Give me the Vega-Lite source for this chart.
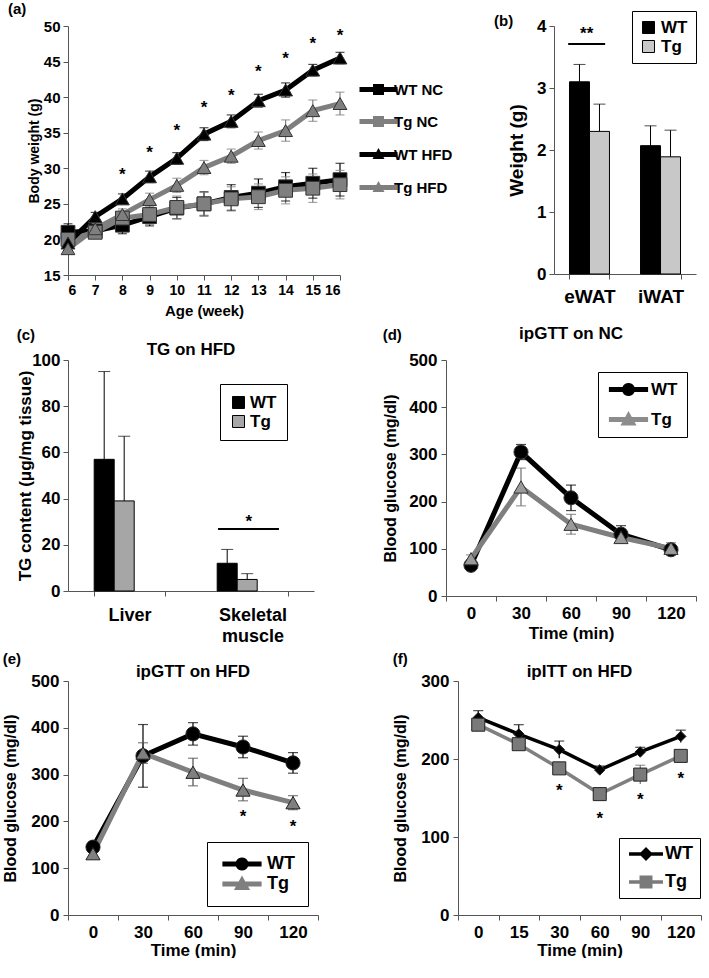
{
"$schema": "https://vega.github.io/schema/vega-lite/v6.json",
"background": "white",
"padding": {"left": 2, "top": 2, "right": 2, "bottom": 0},
"config": {
  "font": "Liberation Sans",
  "view": {"stroke": null},
  "axis": {"labelFont": "Liberation Sans", "labelFontWeight": "bold", "labelColor": "#000", "titleFont": "Liberation Sans", "titleFontWeight": "bold", "titleColor": "#000", "domainColor": "#555", "tickColor": "#555", "grid": false, "tickSize": 5, "labelPadding": 3, "labelOverlap": false},
  "title": {"font": "Liberation Sans", "fontWeight": "bold", "color": "#000"},
  "legend": {"labelFont": "Liberation Sans", "labelFontWeight": "bold", "labelColor": "#000"}
},
"datasets": {
  "a": [
    {"series": "WT NC", "week": 6, "value": 21.0, "lo": 19.8, "hi": 22.2},
    {"series": "WT NC", "week": 7, "value": 21.2, "lo": 20.4, "hi": 22.0},
    {"series": "WT NC", "week": 8, "value": 22.0, "lo": 20.8, "hi": 23.2},
    {"series": "WT NC", "week": 9, "value": 23.2, "lo": 21.9, "hi": 24.5},
    {"series": "WT NC", "week": 10, "value": 24.4, "lo": 22.9, "hi": 25.9},
    {"series": "WT NC", "week": 11, "value": 25.0, "lo": 23.3, "hi": 26.7},
    {"series": "WT NC", "week": 12, "value": 25.9, "lo": 24.1, "hi": 27.7},
    {"series": "WT NC", "week": 13, "value": 26.5, "lo": 24.5, "hi": 28.5},
    {"series": "WT NC", "week": 14, "value": 27.4, "lo": 25.4, "hi": 29.4},
    {"series": "WT NC", "week": 15, "value": 27.9, "lo": 25.8, "hi": 30.0},
    {"series": "WT NC", "week": 16, "value": 28.4, "lo": 26.1, "hi": 30.7},
    {"series": "Tg NC", "week": 6, "value": 20.0, "lo": 18.8, "hi": 21.2},
    {"series": "Tg NC", "week": 7, "value": 21.0, "lo": 20.2, "hi": 21.8},
    {"series": "Tg NC", "week": 8, "value": 23.0, "lo": 22.0, "hi": 24.0},
    {"series": "Tg NC", "week": 9, "value": 23.5, "lo": 22.1, "hi": 24.9},
    {"series": "Tg NC", "week": 10, "value": 24.5, "lo": 22.9, "hi": 26.1},
    {"series": "Tg NC", "week": 11, "value": 25.0, "lo": 23.4, "hi": 26.6},
    {"series": "Tg NC", "week": 12, "value": 25.7, "lo": 24.0, "hi": 27.4},
    {"series": "Tg NC", "week": 13, "value": 26.0, "lo": 24.2, "hi": 27.8},
    {"series": "Tg NC", "week": 14, "value": 26.9, "lo": 25.0, "hi": 28.8},
    {"series": "Tg NC", "week": 15, "value": 27.2, "lo": 25.2, "hi": 29.2},
    {"series": "Tg NC", "week": 16, "value": 27.7, "lo": 25.7, "hi": 29.7},
    {"series": "WT HFD", "week": 6, "value": 19.5, "lo": 18.9, "hi": 20.1},
    {"series": "WT HFD", "week": 7, "value": 23.2, "lo": 22.6, "hi": 23.8},
    {"series": "WT HFD", "week": 8, "value": 25.7, "lo": 25.0, "hi": 26.4},
    {"series": "WT HFD", "week": 9, "value": 28.8, "lo": 28.0, "hi": 29.6},
    {"series": "WT HFD", "week": 10, "value": 31.4, "lo": 30.6, "hi": 32.2},
    {"series": "WT HFD", "week": 11, "value": 34.8, "lo": 33.9, "hi": 35.7},
    {"series": "WT HFD", "week": 12, "value": 36.6, "lo": 35.7, "hi": 37.5},
    {"series": "WT HFD", "week": 13, "value": 39.5, "lo": 38.6, "hi": 40.4},
    {"series": "WT HFD", "week": 14, "value": 41.0, "lo": 40.0, "hi": 42.0},
    {"series": "WT HFD", "week": 15, "value": 43.8, "lo": 43.0, "hi": 44.6},
    {"series": "WT HFD", "week": 16, "value": 45.5, "lo": 44.7, "hi": 46.3},
    {"series": "Tg HFD", "week": 6, "value": 18.7, "lo": 18.1, "hi": 19.3},
    {"series": "Tg HFD", "week": 7, "value": 21.5, "lo": 20.8, "hi": 22.2},
    {"series": "Tg HFD", "week": 8, "value": 23.5, "lo": 22.7, "hi": 24.3},
    {"series": "Tg HFD", "week": 9, "value": 25.6, "lo": 24.7, "hi": 26.5},
    {"series": "Tg HFD", "week": 10, "value": 27.6, "lo": 26.6, "hi": 28.6},
    {"series": "Tg HFD", "week": 11, "value": 30.1, "lo": 29.1, "hi": 31.1},
    {"series": "Tg HFD", "week": 12, "value": 31.7, "lo": 30.7, "hi": 32.7},
    {"series": "Tg HFD", "week": 13, "value": 33.9, "lo": 32.7, "hi": 35.1},
    {"series": "Tg HFD", "week": 14, "value": 35.3, "lo": 33.8, "hi": 36.8},
    {"series": "Tg HFD", "week": 15, "value": 38.1, "lo": 36.6, "hi": 39.6},
    {"series": "Tg HFD", "week": 16, "value": 39.1, "lo": 37.5, "hi": 40.7}
  ],
  "a_stars": [
    {"week": 8, "y": 29.6}, {"week": 9, "y": 32.7}, {"week": 10, "y": 35.8},
    {"week": 11, "y": 39.0}, {"week": 12, "y": 40.7}, {"week": 13, "y": 44.1},
    {"week": 14, "y": 45.9}, {"week": 15, "y": 48.0}, {"week": 16, "y": 49.2}
  ],
  "b": [
    {"tissue": "eWAT", "group": "WT", "value": 3.10, "hi": 3.38},
    {"tissue": "eWAT", "group": "Tg", "value": 2.30, "hi": 2.74},
    {"tissue": "iWAT", "group": "WT", "value": 2.07, "hi": 2.39},
    {"tissue": "iWAT", "group": "Tg", "value": 1.89, "hi": 2.32}
  ],
  "b_sig": [{"x1": 0.2, "x2": 0.72, "y": 3.71, "lx": 0.46, "ly": 3.93, "label": "**"}],
  "c": [
    {"tissue": "Liver", "group": "WT", "value": 57, "hi": 95},
    {"tissue": "Liver", "group": "Tg", "value": 39, "hi": 67},
    {"tissue": "Skeletal muscle", "group": "WT", "value": 12, "hi": 18},
    {"tissue": "Skeletal muscle", "group": "Tg", "value": 5, "hi": 7.5}
  ],
  "c_sig": [{"x1": 1.22, "x2": 1.715, "y": 26.8, "lx": 1.47, "ly": 31.5, "label": "*"}],
  "d": [
    {"series": "WT", "t": "0", "value": 65, "lo": 57, "hi": 73},
    {"series": "WT", "t": "30", "value": 305, "lo": 289, "hi": 321},
    {"series": "WT", "t": "60", "value": 208, "lo": 181, "hi": 235},
    {"series": "WT", "t": "90", "value": 131, "lo": 113, "hi": 149},
    {"series": "WT", "t": "120", "value": 98, "lo": 88, "hi": 108},
    {"series": "Tg", "t": "0", "value": 79, "lo": 71, "hi": 87},
    {"series": "Tg", "t": "30", "value": 231, "lo": 191, "hi": 271},
    {"series": "Tg", "t": "60", "value": 152, "lo": 131, "hi": 173},
    {"series": "Tg", "t": "90", "value": 124, "lo": 112, "hi": 136},
    {"series": "Tg", "t": "120", "value": 101, "lo": 89, "hi": 113}
  ],
  "e": [
    {"series": "WT", "t": "0", "value": 145, "lo": 135, "hi": 155},
    {"series": "WT", "t": "30", "value": 340, "lo": 273, "hi": 407},
    {"series": "WT", "t": "60", "value": 387, "lo": 363, "hi": 411},
    {"series": "WT", "t": "90", "value": 359, "lo": 336, "hi": 382},
    {"series": "WT", "t": "120", "value": 325, "lo": 303, "hi": 347},
    {"series": "Tg", "t": "0", "value": 131, "lo": 121, "hi": 141},
    {"series": "Tg", "t": "30", "value": 346, "lo": 324, "hi": 368},
    {"series": "Tg", "t": "60", "value": 305, "lo": 276, "hi": 335},
    {"series": "Tg", "t": "90", "value": 267, "lo": 244, "hi": 292},
    {"series": "Tg", "t": "120", "value": 240, "lo": 225, "hi": 255}
  ],
  "e_stars": [{"t": "90", "y": 217}, {"t": "120", "y": 196}],
  "f": [
    {"series": "WT", "t": "0", "value": 253, "lo": 244, "hi": 262},
    {"series": "WT", "t": "15", "value": 232, "lo": 220, "hi": 244},
    {"series": "WT", "t": "30", "value": 212, "lo": 201, "hi": 223},
    {"series": "WT", "t": "60", "value": 186, "lo": 181, "hi": 191},
    {"series": "WT", "t": "90", "value": 209, "lo": 203, "hi": 215},
    {"series": "WT", "t": "120", "value": 229, "lo": 221, "hi": 237},
    {"series": "Tg", "t": "0", "value": 244, "lo": 238, "hi": 250},
    {"series": "Tg", "t": "15", "value": 219, "lo": 213, "hi": 225},
    {"series": "Tg", "t": "30", "value": 188, "lo": 182, "hi": 194},
    {"series": "Tg", "t": "60", "value": 155, "lo": 150, "hi": 160},
    {"series": "Tg", "t": "90", "value": 180, "lo": 168, "hi": 192},
    {"series": "Tg", "t": "120", "value": 204, "lo": 198, "hi": 210}
  ],
  "f_stars": [{"t": "30", "y": 164}, {"t": "60", "y": 128}, {"t": "90", "y": 152}, {"t": "120", "y": 179}]
},
"resolve": {"scale": {"color": "independent", "fill": "independent", "stroke": "independent", "shape": "independent", "size": "independent"}, "legend": {"color": "independent", "fill": "independent", "stroke": "independent", "shape": "independent", "size": "independent"}},
"vconcat": [
 {"resolve": {"scale": {"color": "independent", "fill": "independent", "stroke": "independent", "shape": "independent", "size": "independent"}, "legend": {"color": "independent", "fill": "independent", "stroke": "independent", "shape": "independent", "size": "independent"}},
  "hconcat": [
  {
   "width": 272, "height": 249,
   "title": {"text": "(a)", "anchor": "start", "frame": "group", "dx": -60, "fontSize": 15, "offset": 2},
   "resolve": {"scale": {"shape": "independent", "color": "independent"}},
   "layer": [
    {"data": {"name": "a"}, "mark": {"type": "rule", "strokeWidth": 1.2},
     "encoding": {
      "x": {"field": "week", "type": "quantitative", "scale": {"domain": [6, 16], "nice": false, "zero": false}, "axis": {"values": [6,7,8,9,10,11,12,13,14,15,16], "title": "Age (week)", "labelFontSize": 14, "titleFontSize": 15, "titlePadding": 6, "labelOverlap": false}},
      "y": {"field": "lo", "type": "quantitative", "scale": {"domain": [15, 50], "nice": false, "zero": false}, "axis": {"values": [15,20,25,30,35,40,45,50], "title": "Body weight (g)", "labelFontSize": 15, "titleFontSize": 14, "titlePadding": 2, "labelOverlap": false}},
      "y2": {"field": "hi"},
      "color": {"field": "series", "type": "nominal", "scale": {"domain": ["WT NC", "Tg NC", "WT HFD", "Tg HFD"], "range": ["#000000", "#7f7f7f", "#000000", "#7f7f7f"]}, "legend": null}
     }},
    {"data": {"name": "a"}, "mark": {"type": "tick", "orient": "horizontal", "thickness": 1.2, "size": 9},
     "encoding": {"x": {"field": "week", "type": "quantitative", "axis": {"values": [6,7,8,9,10,11,12,13,14,15,16], "title": "Age (week)", "labelFontSize": 14, "titleFontSize": 15, "titlePadding": 6, "labelOverlap": false}}, "y": {"field": "hi", "type": "quantitative", "axis": {"values": [15,20,25,30,35,40,45,50], "title": "Body weight (g)", "labelFontSize": 15, "titleFontSize": 14, "titlePadding": 2, "labelOverlap": false}}, "color": {"field": "series", "type": "nominal", "scale": {"domain": ["WT NC", "Tg NC", "WT HFD", "Tg HFD"], "range": ["#000000", "#7f7f7f", "#000000", "#7f7f7f"]}, "legend": null}}},
    {"data": {"name": "a"}, "mark": {"type": "tick", "orient": "horizontal", "thickness": 1.2, "size": 9},
     "encoding": {"x": {"field": "week", "type": "quantitative", "axis": {"values": [6,7,8,9,10,11,12,13,14,15,16], "title": "Age (week)", "labelFontSize": 14, "titleFontSize": 15, "titlePadding": 6, "labelOverlap": false}}, "y": {"field": "lo", "type": "quantitative", "axis": {"values": [15,20,25,30,35,40,45,50], "title": "Body weight (g)", "labelFontSize": 15, "titleFontSize": 14, "titlePadding": 2, "labelOverlap": false}}, "color": {"field": "series", "type": "nominal", "scale": {"domain": ["WT NC", "Tg NC", "WT HFD", "Tg HFD"], "range": ["#000000", "#7f7f7f", "#000000", "#7f7f7f"]}, "legend": null}}},
    {"data": {"name": "a"}, "mark": {"type": "line", "strokeWidth": 5},
     "encoding": {"x": {"field": "week", "type": "quantitative", "axis": {"values": [6,7,8,9,10,11,12,13,14,15,16], "title": "Age (week)", "labelFontSize": 14, "titleFontSize": 15, "titlePadding": 6, "labelOverlap": false}}, "y": {"field": "value", "type": "quantitative", "axis": {"values": [15,20,25,30,35,40,45,50], "title": "Body weight (g)", "labelFontSize": 15, "titleFontSize": 14, "titlePadding": 2, "labelOverlap": false}},
      "color": {"field": "series", "type": "nominal", "scale": {"domain": ["WT NC", "Tg NC", "WT HFD", "Tg HFD"], "range": ["#000000", "#7f7f7f", "#000000", "#7f7f7f"]}, "legend": null}}},
    {"data": {"name": "a"}, "mark": {"type": "point", "filled": true, "opacity": 1, "stroke": "#333333", "strokeWidth": 1},
     "encoding": {"x": {"field": "week", "type": "quantitative", "axis": {"values": [6,7,8,9,10,11,12,13,14,15,16], "title": "Age (week)", "labelFontSize": 14, "titleFontSize": 15, "titlePadding": 6, "labelOverlap": false}}, "y": {"field": "value", "type": "quantitative", "axis": {"values": [15,20,25,30,35,40,45,50], "title": "Body weight (g)", "labelFontSize": 15, "titleFontSize": 14, "titlePadding": 2, "labelOverlap": false}},
      "color": {"field": "series", "type": "nominal", "scale": {"domain": ["WT NC", "Tg NC", "WT HFD", "Tg HFD"], "range": ["#000000", "#7f7f7f", "#000000", "#7f7f7f"]}, "legend": null},
      "shape": {"field": "series", "type": "nominal", "scale": {"domain": ["WT NC", "Tg NC", "WT HFD", "Tg HFD"], "range": ["square", "square", "triangle-up", "triangle-up"]}, "legend": null},
      "size": {"value": 190}}},
    {"data": {"name": "a"}, "mark": {"type": "point", "filled": true, "opacity": 0},
     "encoding": {"x": {"field": "week", "type": "quantitative", "axis": {"values": [6,7,8,9,10,11,12,13,14,15,16], "title": "Age (week)", "labelFontSize": 14, "titleFontSize": 15, "titlePadding": 6, "labelOverlap": false}}, "y": {"field": "value", "type": "quantitative", "axis": {"values": [15,20,25,30,35,40,45,50], "title": "Body weight (g)", "labelFontSize": 15, "titleFontSize": 14, "titlePadding": 2, "labelOverlap": false}},
      "color": {"field": "series", "type": "nominal", "scale": {"domain": ["WT NC", "Tg NC", "WT HFD", "Tg HFD"], "range": ["#000000", "#7f7f7f", "#000000", "#7f7f7f"]},
       "legend": {"title": null, "orient": "none", "legendX": 287, "legendY": 56, "padding": 0, "symbolSize": 100, "symbolOffset": 16, "labelOffset": 8, "labelFontSize": 15, "rowPadding": 16, "symbolOpacity": 1, "symbolStrokeColor": "#444444", "symbolStrokeWidth": 0.8}},
      "shape": {"field": "series", "type": "nominal", "scale": {"domain": ["WT NC", "Tg NC", "WT HFD", "Tg HFD"], "range": ["M-3.8,-0.5H-1.1V-1.1H1.1V-0.5H3.8V0.5H1.1V1.1H-1.1V0.5H-3.8Z", "M-3.8,-0.5H-1.1V-1.1H1.1V-0.5H3.8V0.5H1.1V1.1H-1.1V0.5H-3.8Z", "M-3.8,-0.5H-0.436L0,-1.3L0.436,-0.5H3.8V0.5H0.982L1.2,0.9H-1.2L-0.982,0.5H-3.8Z", "M-3.8,-0.5H-0.436L0,-1.3L0.436,-0.5H3.8V0.5H0.982L1.2,0.9H-1.2L-0.982,0.5H-3.8Z"]},
       "legend": {"title": null, "orient": "none", "legendX": 287, "legendY": 56, "padding": 0, "symbolSize": 100, "symbolOffset": 16, "labelOffset": 8, "labelFontSize": 15, "rowPadding": 16, "symbolOpacity": 1, "symbolStrokeColor": "#444444", "symbolStrokeWidth": 0.8}},
      "size": {"value": 100}}},
    {"data": {"name": "a_stars"}, "mark": {"type": "text", "text": "*", "fontSize": 17, "fontWeight": "bold", "baseline": "middle", "dy": 4},
     "encoding": {"x": {"field": "week", "type": "quantitative", "axis": {"values": [6,7,8,9,10,11,12,13,14,15,16], "title": "Age (week)", "labelFontSize": 14, "titleFontSize": 15, "titlePadding": 6, "labelOverlap": false}}, "y": {"field": "y", "type": "quantitative", "axis": {"values": [15,20,25,30,35,40,45,50], "title": "Body weight (g)", "labelFontSize": 15, "titleFontSize": 14, "titlePadding": 2, "labelOverlap": false}}}}
   ]
  },
  {
   "width": 142, "height": 248,
   "title": {"text": "(b)", "anchor": "start", "frame": "group", "dx": -60, "fontSize": 15, "offset": -18},
   "layer": [
    {"data": {"name": "b"},
     "encoding": {
      "x": {"field": "tissue", "type": "nominal", "sort": null, "scale": {"paddingInner": 0.437, "paddingOuter": 0.218}, "axis": {"title": null, "labelAngle": 0, "tickBand": "extent", "labelFontSize": 19, "labelPadding": 8}},
      "xOffset": {"field": "group", "type": "nominal", "sort": null, "scale": {"domain": ["WT", "Tg"]}}
     },
     "layer": [
      {"mark": {"type": "bar", "stroke": "#000000", "strokeWidth": 1},
       "encoding": {"y": {"field": "value", "type": "quantitative", "scale": {"domain": [0, 4], "nice": false}, "axis": {"values": [0,1,2,3,4], "format": "d", "title": "Weight (g)", "labelFontSize": 17, "titleFontSize": 19, "titlePadding": 10}},
        "fill": {"field": "group", "type": "nominal", "sort": null, "scale": {"domain": ["WT", "Tg"], "range": ["#000000", "#c8c8c8"]},
         "legend": {"title": null, "orient": "none", "legendX": 78, "legendY": -15, "padding": 8, "strokeColor": "#000000", "fillColor": "#ffffff",
          "symbolType": "square", "symbolSize": 144, "labelFontSize": 17, "rowPadding": 1, "labelOffset": 4, "symbolStrokeColor": "#000000", "symbolStrokeWidth": 1}}}},
      {"mark": {"type": "rule", "strokeWidth": 1, "color": "#000000"},
       "encoding": {"y": {"field": "value", "type": "quantitative"}, "y2": {"field": "hi"}}},
      {"mark": {"type": "tick", "thickness": 1, "size": 12, "color": "#000000"},
       "encoding": {"y": {"field": "hi", "type": "quantitative"}}}
     ]},
    {"data": {"name": "b_sig"},
     "layer": [
      {"mark": {"type": "rule", "strokeWidth": 2, "color": "#000000"},
       "encoding": {"x": {"field": "x1", "type": "quantitative", "scale": {"domain": [0, 2], "nice": false}, "axis": null}, "x2": {"field": "x2"}, "y": {"field": "y", "type": "quantitative"}}},
      {"mark": {"type": "text", "fontSize": 17, "fontWeight": "bold", "baseline": "middle", "dy": 4},
       "encoding": {"x": {"field": "lx", "type": "quantitative", "scale": {"domain": [0, 2], "nice": false}, "axis": null}, "y": {"field": "ly", "type": "quantitative"}, "text": {"field": "label"}}}
     ]}
   ],
   "resolve": {"scale": {"x": "independent"}}
  }
 ], "spacing": 41},
 {"resolve": {"scale": {"color": "independent", "fill": "independent", "stroke": "independent", "shape": "independent", "size": "independent"}, "legend": {"color": "independent", "fill": "independent", "stroke": "independent", "shape": "independent", "size": "independent"}},
  "hconcat": [
  {"title": {"text": "(c)", "anchor": "start", "fontSize": 15, "offset": -2},
   "vconcat": [{
   "width": 246, "height": 231,
   "title": {"text": "TG on HFD", "anchor": "middle", "frame": "group", "fontSize": 17, "offset": -8},
   "layer": [
    {"data": {"name": "c"},
     "encoding": {
      "x": {"field": "tissue", "type": "nominal", "sort": null, "scale": {"paddingInner": 0.426, "paddingOuter": 0.213}, "axis": {"title": null, "labelAngle": 0, "tickBand": "extent", "labelFontSize": 18, "labelPadding": 10, "labelExpr": "split(datum.label, ' ')", "labelLineHeight": 21}},
      "xOffset": {"field": "group", "type": "nominal", "sort": null, "scale": {"domain": ["WT", "Tg"]}}
     },
     "layer": [
      {"mark": {"type": "bar", "stroke": "#000000", "strokeWidth": 1},
       "encoding": {"y": {"field": "value", "type": "quantitative", "scale": {"domain": [0, 100], "nice": false}, "axis": {"values": [0,20,40,60,80,100], "title": "TG content (μg/mg tissue)", "labelFontSize": 17, "titleFontSize": 17, "titlePadding": -3}},
        "fill": {"field": "group", "type": "nominal", "sort": null, "scale": {"domain": ["WT", "Tg"], "range": ["#000000", "#a6a6a6"]},
         "legend": {"title": null, "orient": "none", "legendX": 152, "legendY": 24, "padding": 10, "strokeColor": "#000000", "fillColor": "#ffffff",
          "symbolType": "square", "symbolSize": 144, "labelFontSize": 17, "rowPadding": 1, "labelOffset": 3, "symbolStrokeColor": "#000000", "symbolStrokeWidth": 1}}}},
      {"mark": {"type": "rule", "strokeWidth": 1, "color": "#000000"},
       "encoding": {"y": {"field": "value", "type": "quantitative"}, "y2": {"field": "hi"}}},
      {"mark": {"type": "tick", "thickness": 1, "size": 12, "color": "#000000"},
       "encoding": {"y": {"field": "hi", "type": "quantitative"}}}
     ]},
    {"data": {"name": "c_sig"},
     "layer": [
      {"mark": {"type": "rule", "strokeWidth": 2, "color": "#000000"},
       "encoding": {"x": {"field": "x1", "type": "quantitative", "scale": {"domain": [0, 2], "nice": false}, "axis": null}, "x2": {"field": "x2"}, "y": {"field": "y", "type": "quantitative"}}},
      {"mark": {"type": "text", "fontSize": 17, "fontWeight": "bold", "baseline": "middle", "dy": 4},
       "encoding": {"x": {"field": "lx", "type": "quantitative", "scale": {"domain": [0, 2], "nice": false}, "axis": null}, "y": {"field": "ly", "type": "quantitative"}, "text": {"field": "label"}}}
     ]}
   ],
   "resolve": {"scale": {"x": "independent"}}
  }]},
  {"title": {"text": "(d)", "anchor": "start", "fontSize": 15, "offset": -18},
   "vconcat": [{
   "width": 250, "height": 236,
   "title": {"text": "ipGTT on NC", "anchor": "middle", "frame": "group", "fontSize": 17, "offset": 8},
   "data": {"name": "d"},
   "resolve": {"scale": {"shape": "independent", "color": "independent"}},
   "encoding": {
    "x": {"field": "t", "type": "ordinal", "scale": {"type": "band", "domain": ["0","30","60","90","120"], "paddingInner": 0, "paddingOuter": 0}, "axis": {"title": "Time (min)", "labelAngle": 0, "tickBand": "extent", "labelFontSize": 17, "titleFontSize": 17, "labelPadding": 4, "titlePadding": 4}}
   },
   "layer": [
    {"mark": {"type": "rule", "strokeWidth": 1.2},
     "encoding": {"y": {"field": "lo", "type": "quantitative", "scale": {"domain": [0, 500], "nice": false}, "axis": {"values": [0,100,200,300,400,500], "title": "Blood glucose (mg/dl)", "labelFontSize": 17, "titleFontSize": 16, "titlePadding": 10, "labelPadding": 4}}, "y2": {"field": "hi"},
      "color": {"field": "series", "type": "nominal", "scale": {"domain": ["WT", "Tg"], "range": ["#000000", "#6e6e6e"]}, "legend": null}}},
    {"mark": {"type": "tick", "thickness": 1.2, "size": 10},
     "encoding": {"y": {"field": "hi", "type": "quantitative"}, "color": {"field": "series", "type": "nominal", "scale": {"domain": ["WT", "Tg"], "range": ["#000000", "#6e6e6e"]}, "legend": null}}},
    {"mark": {"type": "tick", "thickness": 1.2, "size": 10},
     "encoding": {"y": {"field": "lo", "type": "quantitative"}, "color": {"field": "series", "type": "nominal", "scale": {"domain": ["WT", "Tg"], "range": ["#000000", "#6e6e6e"]}, "legend": null}}},
    {"mark": {"type": "line", "strokeWidth": 5},
     "encoding": {"y": {"field": "value", "type": "quantitative"}, "color": {"field": "series", "type": "nominal", "scale": {"domain": ["WT", "Tg"], "range": ["#000000", "#7f7f7f"]}, "legend": null}}},
    {"mark": {"type": "point", "filled": true, "opacity": 1, "stroke": "#333333", "strokeWidth": 1},
     "encoding": {"y": {"field": "value", "type": "quantitative"},
      "fill": {"field": "series", "type": "nominal", "scale": {"domain": ["WT", "Tg"], "range": ["#000000", "#9a9a9a"]}, "legend": null},
      "shape": {"field": "series", "type": "nominal", "scale": {"domain": ["WT", "Tg"], "range": ["circle", "triangle-up"]}, "legend": null},
      "size": {"value": 200}}},
    {"mark": {"type": "point", "filled": true, "opacity": 0},
     "encoding": {"y": {"field": "value", "type": "quantitative"},
      "color": {"field": "series", "type": "nominal", "scale": {"domain": ["WT", "Tg"], "range": ["#000000", "#8c8c8c"]},
       "legend": {"title": null, "orient": "none", "legendX": 152, "legendY": 12, "padding": 9, "strokeColor": "#000000", "fillColor": "#ffffff", "symbolSize": 196, "symbolOffset": 13, "labelOffset": 14, "labelFontSize": 17, "rowPadding": 11, "symbolOpacity": 1, "symbolStrokeColor": "#444444", "symbolStrokeWidth": 0.8}},
      "shape": {"field": "series", "type": "nominal", "scale": {"domain": ["WT", "Tg"], "range": ["M-2.8,-0.36H-0.857A0.93,0.93 0 0 1 0.857,-0.36H2.8V0.36H0.857A0.93,0.93 0 0 1 -0.857,0.36H-2.8Z", "M-2.8,-0.36H-0.471L0,-1.2L0.471,-0.36H2.8V0.36H0.875L1.15,0.85H-1.15L-0.875,0.36H-2.8Z"]},
       "legend": {"title": null, "orient": "none", "legendX": 152, "legendY": 12, "padding": 9, "strokeColor": "#000000", "fillColor": "#ffffff", "symbolSize": 196, "symbolOffset": 13, "labelOffset": 14, "labelFontSize": 17, "rowPadding": 11, "symbolOpacity": 1, "symbolStrokeColor": "#444444", "symbolStrokeWidth": 0.8}},
      "size": {"value": 100}}}
   ]
  }]}
 ], "spacing": 68},
 {"resolve": {"scale": {"color": "independent", "fill": "independent", "stroke": "independent", "shape": "independent", "size": "independent"}, "legend": {"color": "independent", "fill": "independent", "stroke": "independent", "shape": "independent", "size": "independent"}},
  "hconcat": [
  {"title": {"text": "(e)", "anchor": "start", "fontSize": 15, "offset": -4},
   "vconcat": [{
   "width": 250, "height": 234,
   "title": {"text": "ipGTT on HFD", "anchor": "middle", "frame": "group", "fontSize": 17, "offset": -9},
   "resolve": {"scale": {"shape": "independent", "color": "independent"}},
   "encoding": {
    "x": {"field": "t", "type": "ordinal", "scale": {"type": "band", "domain": ["0","30","60","90","120"], "paddingInner": 0, "paddingOuter": 0}, "axis": {"title": "Time (min)", "labelAngle": 0, "tickBand": "extent", "labelFontSize": 17, "titleFontSize": 17, "labelPadding": 4, "titlePadding": 2}}
   },
   "layer": [
    {"data": {"name": "e"}, "mark": {"type": "rule", "strokeWidth": 1.2},
     "encoding": {"y": {"field": "lo", "type": "quantitative", "scale": {"domain": [0, 500], "nice": false}, "axis": {"values": [0,100,200,300,400,500], "title": "Blood glucose (mg/dl)", "labelFontSize": 17, "titleFontSize": 16, "titlePadding": 12, "labelPadding": 4}}, "y2": {"field": "hi"},
      "color": {"field": "series", "type": "nominal", "scale": {"domain": ["WT", "Tg"], "range": ["#000000", "#4a4a4a"]}, "legend": null}}},
    {"data": {"name": "e"}, "mark": {"type": "tick", "thickness": 1.2, "size": 10},
     "encoding": {"y": {"field": "hi", "type": "quantitative"}, "color": {"field": "series", "type": "nominal", "scale": {"domain": ["WT", "Tg"], "range": ["#000000", "#4a4a4a"]}, "legend": null}}},
    {"data": {"name": "e"}, "mark": {"type": "tick", "thickness": 1.2, "size": 10},
     "encoding": {"y": {"field": "lo", "type": "quantitative"}, "color": {"field": "series", "type": "nominal", "scale": {"domain": ["WT", "Tg"], "range": ["#000000", "#4a4a4a"]}, "legend": null}}},
    {"data": {"name": "e"}, "mark": {"type": "line", "strokeWidth": 5},
     "encoding": {"y": {"field": "value", "type": "quantitative"}, "color": {"field": "series", "type": "nominal", "scale": {"domain": ["WT", "Tg"], "range": ["#000000", "#7f7f7f"]}, "legend": null}}},
    {"data": {"name": "e"}, "mark": {"type": "point", "filled": true, "opacity": 1, "stroke": "#222222", "strokeWidth": 1},
     "encoding": {"y": {"field": "value", "type": "quantitative"},
      "fill": {"field": "series", "type": "nominal", "scale": {"domain": ["WT", "Tg"], "range": ["#000000", "#808080"]}, "legend": null},
      "shape": {"field": "series", "type": "nominal", "scale": {"domain": ["WT", "Tg"], "range": ["circle", "triangle-up"]}, "legend": null},
      "size": {"value": 200}}},
    {"data": {"name": "e"}, "mark": {"type": "point", "filled": true, "opacity": 0},
     "encoding": {"y": {"field": "value", "type": "quantitative"},
      "color": {"field": "series", "type": "nominal", "scale": {"domain": ["WT", "Tg"], "range": ["#000000", "#7f7f7f"]},
       "legend": {"title": null, "orient": "none", "legendX": 139, "legendY": 161, "padding": 13, "strokeColor": "#000000", "fillColor": "#ffffff", "symbolSize": 196, "symbolOffset": 13, "labelOffset": 16, "labelFontSize": 18, "rowPadding": 1, "symbolOpacity": 1, "symbolStrokeColor": "#333333", "symbolStrokeWidth": 0.8}},
      "shape": {"field": "series", "type": "nominal", "scale": {"domain": ["WT", "Tg"], "range": ["M-2.8,-0.36H-0.857A0.93,0.93 0 0 1 0.857,-0.36H2.8V0.36H0.857A0.93,0.93 0 0 1 -0.857,0.36H-2.8Z", "M-2.8,-0.36H-0.471L0,-1.2L0.471,-0.36H2.8V0.36H0.875L1.15,0.85H-1.15L-0.875,0.36H-2.8Z"]},
       "legend": {"title": null, "orient": "none", "legendX": 139, "legendY": 161, "padding": 13, "strokeColor": "#000000", "fillColor": "#ffffff", "symbolSize": 196, "symbolOffset": 13, "labelOffset": 16, "labelFontSize": 18, "rowPadding": 1, "symbolOpacity": 1, "symbolStrokeColor": "#333333", "symbolStrokeWidth": 0.8}},
      "size": {"value": 100}}},
    {"data": {"name": "e_stars"}, "mark": {"type": "text", "text": "*", "fontSize": 17, "fontWeight": "bold", "baseline": "middle", "dy": 4},
     "encoding": {"y": {"field": "y", "type": "quantitative"}}}
   ]
  }]},
  {"title": {"text": "(f)", "anchor": "start", "fontSize": 15, "offset": -4},
   "vconcat": [{
   "width": 243, "height": 234,
   "title": {"text": "ipITT on HFD", "anchor": "middle", "frame": "group", "fontSize": 17, "offset": -9},
   "resolve": {"scale": {"shape": "independent", "size": "independent", "color": "independent"}},
   "encoding": {
    "x": {"field": "t", "type": "ordinal", "scale": {"type": "band", "domain": ["0","15","30","60","90","120"], "paddingInner": 0, "paddingOuter": 0}, "axis": {"title": "Time (min)", "labelAngle": 0, "tickBand": "extent", "labelFontSize": 17, "titleFontSize": 17, "labelPadding": 4, "titlePadding": 2}}
   },
   "layer": [
    {"data": {"name": "f"}, "mark": {"type": "rule", "strokeWidth": 1.2},
     "encoding": {"y": {"field": "lo", "type": "quantitative", "scale": {"domain": [0, 300], "nice": false}, "axis": {"values": [0,50,100,150,200,250,300], "title": "Blood glucose (mg/dl)", "labelFontSize": 17, "titleFontSize": 16, "titlePadding": 12, "labelPadding": 4}}, "y2": {"field": "hi"},
      "color": {"field": "series", "type": "nominal", "scale": {"domain": ["WT", "Tg"], "range": ["#000000", "#6e6e6e"]}, "legend": null}}},
    {"data": {"name": "f"}, "mark": {"type": "tick", "thickness": 1.2, "size": 10},
     "encoding": {"y": {"field": "hi", "type": "quantitative"}, "color": {"field": "series", "type": "nominal", "scale": {"domain": ["WT", "Tg"], "range": ["#000000", "#6e6e6e"]}, "legend": null}}},
    {"data": {"name": "f"}, "mark": {"type": "line", "strokeWidth": 3.5},
     "encoding": {"y": {"field": "value", "type": "quantitative"}, "color": {"field": "series", "type": "nominal", "scale": {"domain": ["WT", "Tg"], "range": ["#000000", "#808080"]}, "legend": null}}},
    {"data": {"name": "f"}, "mark": {"type": "point", "filled": true, "opacity": 1, "stroke": "#222222", "strokeWidth": 1},
     "encoding": {"y": {"field": "value", "type": "quantitative"},
      "fill": {"field": "series", "type": "nominal", "scale": {"domain": ["WT", "Tg"], "range": ["#000000", "#7a7a7a"]}, "legend": null},
      "shape": {"field": "series", "type": "nominal", "scale": {"domain": ["WT", "Tg"], "range": ["diamond", "square"]}, "legend": null},
      "size": {"field": "series", "type": "nominal", "scale": {"domain": ["WT", "Tg"], "range": [110, 170]}, "legend": null}}},
    {"data": {"name": "f"}, "mark": {"type": "point", "filled": true, "opacity": 0},
     "encoding": {"y": {"field": "value", "type": "quantitative"},
      "color": {"field": "series", "type": "nominal", "scale": {"domain": ["WT", "Tg"], "range": ["#000000", "#7a7a7a"]},
       "legend": {"title": null, "orient": "none", "legendX": 161, "legendY": 157, "padding": 7, "strokeColor": "#000000", "fillColor": "#ffffff", "symbolSize": 144, "symbolOffset": 11, "labelOffset": 10, "labelFontSize": 18, "rowPadding": 10, "symbolOpacity": 1, "symbolStrokeColor": "#333333", "symbolStrokeWidth": 0.8}},
      "shape": {"field": "series", "type": "nominal", "scale": {"domain": ["WT", "Tg"], "range": ["M-2.83,-0.3H-0.87L0,-1.17L0.87,-0.3H2.83V0.3H0.87L0,1.17L-0.87,0.3H-2.83Z", "M-2.83,-0.3H-1.08V-1.08H1.08V-0.3H2.83V0.3H1.08V1.08H-1.08V0.3H-2.83Z"]},
       "legend": {"title": null, "orient": "none", "legendX": 161, "legendY": 157, "padding": 7, "strokeColor": "#000000", "fillColor": "#ffffff", "symbolSize": 144, "symbolOffset": 11, "labelOffset": 10, "labelFontSize": 18, "rowPadding": 10, "symbolOpacity": 1, "symbolStrokeColor": "#333333", "symbolStrokeWidth": 0.8}},
      "size": {"value": 100}}},
    {"data": {"name": "f_stars"}, "mark": {"type": "text", "text": "*", "fontSize": 17, "fontWeight": "bold", "baseline": "middle", "dy": 4},
     "encoding": {"y": {"field": "y", "type": "quantitative"}}}
   ]
  }]}
 ], "spacing": 73}
],
"spacing": 7
}
